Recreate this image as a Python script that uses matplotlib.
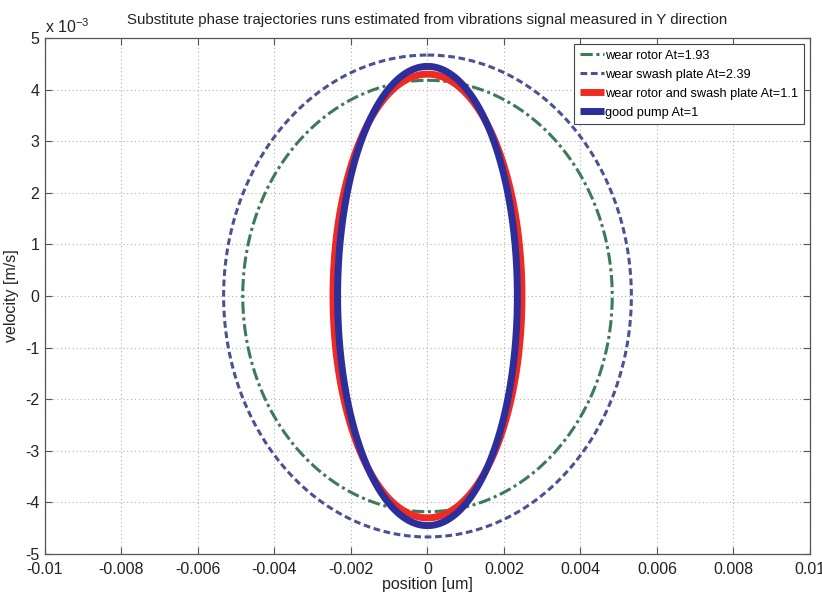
import numpy as np
import matplotlib.pyplot as plt
from matplotlib.ticker import FuncFormatter

plt.rcParams['font.family'] = ['Liberation Sans', 'DejaVu Sans']
plt.rcParams['mathtext.fontset'] = 'custom'
plt.rcParams['mathtext.rm'] = 'Liberation Sans'
plt.rcParams['mathtext.it'] = 'Liberation Sans'

# substitute trajectories: position amplitude [um] and velocity amplitude [m/s]
labels = ["wear rotor At=1.93", "wear swash plate At=2.39",
          "wear rotor and swash plate At=1.1", "good pump At=1"]
pos_amp = [0.00483, 0.00533, 0.00247, 0.00235]
vel_amp = [0.00418, 0.00467, 0.00430, 0.00445]

colors = ["#3c7a58", "#4a5291", "#ef2a22", "#2c2e9c"]
styles = [(0, (4, 1.2, 1, 1.2)), (0, (2.2, 1.2)), "-", "-"]
widths = [2.2, 2.2, 5.0, 5.0]

xticks = np.arange(-0.01, 0.0101, 0.002)
yticks = np.arange(-5, 6) * 1e-3

fig = plt.figure(figsize=(8.22, 5.92), dpi=100)
ax = fig.add_axes([0.0547, 0.0642, 0.9307, 0.8716])

phase = np.linspace(0, 2 * np.pi, 600)
for lab, a, b, c, ls, lw in zip(labels, pos_amp, vel_amp, colors, styles, widths):
    ax.plot(a * np.sin(phase), b * np.cos(phase), color=c, linestyle=ls,
            linewidth=lw, label=lab, solid_capstyle='butt', dash_capstyle='butt')

ax.set_xlim(-0.01, 0.01)
ax.set_ylim(-0.005, 0.005)
ax.set_xticks(xticks)
ax.set_yticks(yticks)
ax.xaxis.set_major_formatter(FuncFormatter(lambda v, p: "0" if abs(v) < 1e-9 else f"{v:g}"))
ax.yaxis.set_major_formatter(FuncFormatter(lambda v, p: f"{round(v * 1e3):d}"))
ax.tick_params(direction='in', length=5, labelsize=11.5, top=True, right=True,
               color='#555555', labelcolor='#222222', pad=4)
ax.tick_params(axis='x', pad=6)
for s in ax.spines.values():
    s.set_color('#555555')
    s.set_linewidth(0.9)
ax.grid(True, linestyle=(0, (1, 2.5)), color='#b0b0b0', linewidth=0.8)

ax.text(0.0, 1.004, r"x 10$^{-3}$", transform=ax.transAxes, ha='left', va='bottom',
        fontsize=11.5, color='#222222')
ax.set_xlabel("position [um]", fontsize=11.5, color='#222222', labelpad=0)
ax.set_ylabel("velocity [m/s]", fontsize=11.5, color='#222222', labelpad=4)
ax.set_title("Substitute phase trajectories runs estimated from vibrations signal measured in Y direction",
             fontsize=10.8, color='#222222', pad=10)

leg = ax.legend(loc='upper right', fontsize=9.2, handlelength=1.9, handletextpad=0.1,
                borderpad=0.45, labelspacing=0.55, fancybox=False, framealpha=1,
                borderaxespad=0.45)
leg.get_frame().set_edgecolor('#444444')
leg.get_frame().set_linewidth(0.8)

fig.savefig("out.png", dpi=100)
